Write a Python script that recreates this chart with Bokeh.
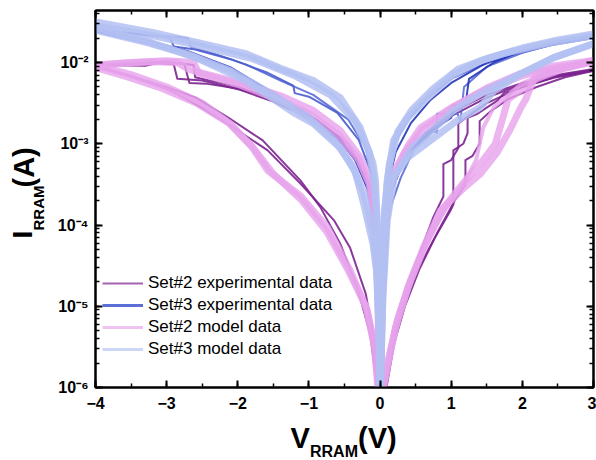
import math
from bokeh.plotting import figure
from bokeh.layouts import row, column
from bokeh.core.properties import value
from bokeh.models import (ColumnDataSource, Range1d, SingleIntervalTicker, LogTicker,
                          LinearAxis, LogAxis, Legend, LegendItem,
                          CustomJSTickFormatter)
from bokeh.embed import file_html
from bokeh.resources import INLINE

FONT = "Liberation Sans"

# ---------------- data (V in volts, I in amperes) ----------------
# Set#2 experimental data: branches of several switching cycles
set2_exp_v = [
    [0.08, 0.17, 0.29, 0.47, 0.75, 0.99, 1.03, 1.03, 1.17, 1.23, 1.23, 1.37, 1.51, 1.65, 1.74, 1.97, 2.44, 3.0],
    [3.0, 2.5, 2.0, 1.5, 1.0, 0.6, 0.35, 0.15, 0.07, 0.025, 0.006],
    [-0.006, -0.025, -0.06, -0.15, -0.3, -0.6, -1.0, -1.5, -2.0, -2.45, -2.68, -2.75, -3.1, -3.3, -4.0],
    [-4.0, -3.54, -3.06, -2.59, -2.13, -1.65, -1.12, -0.84, -0.56, -0.32, -0.14, -0.04],
    [0.07, 0.15, 0.27, 0.45, 0.6, 0.75, 0.89, 0.89, 1.0, 1.1, 1.1, 1.3, 1.5, 2.0, 2.5, 3.0],
    [3.0, 2.5, 2.0, 1.5, 1.0, 0.6, 0.35, 0.15, 0.07, 0.025, 0.006],
    [-0.006, -0.025, -0.06, -0.15, -0.3, -0.6, -1.0, -1.5, -2.0, -2.5, -2.85, -2.9, -3.2, -4.0],
    [-4.0, -3.5, -3.0, -2.52, -2.06, -1.58, -1.12, -0.65, -0.42, -0.2, -0.08, -0.03],
    [0.09, 0.2, 0.35, 0.55, 0.8, 1.05, 1.2, 1.2, 1.3, 1.4, 1.4, 1.55, 1.8, 2.2, 2.6, 3.0],
    [-0.008, -0.03, -0.08, -0.2, -0.45, -0.9, -1.4, -2.0, -2.4, -2.6, -2.62, -3.0, -3.4, -4.0],
]
set2_exp_i = [
    [1e-6, 3.1e-6, 8.1e-6, 2.24e-5, 6.5e-5, 1.51e-4, 1.78e-4, 8.3e-4, 1.0e-3, 1.35e-3, 2.09e-3, 2.34e-3, 2.82e-3, 3.4e-3, 4.2e-3, 4.9e-3, 6.5e-3, 7.9e-3],
    [8.3e-3, 7.1e-3, 5.6e-3, 4.0e-3, 2.4e-3, 1.26e-3, 7.1e-4, 2.82e-4, 7.1e-5, 1.12e-5, 1e-6],
    [1e-6, 1.12e-5, 7.1e-5, 3.16e-4, 6.0e-4, 1.26e-3, 2.24e-3, 3.5e-3, 4.8e-3, 5.5e-3, 5.6e-3, 9.5e-3, 1.0e-2, 9.1e-3, 9.3e-3],
    [9.1e-3, 6.9e-3, 5.2e-3, 3.7e-3, 2.09e-3, 1.1e-3, 3.55e-4, 1.66e-4, 5.9e-5, 1.7e-5, 4.6e-6, 1e-6],
    [1e-6, 3.16e-6, 8.9e-6, 2.5e-5, 5.6e-5, 1.26e-4, 2.24e-4, 5.6e-4, 6.3e-4, 8.9e-4, 1.78e-3, 2.4e-3, 3.16e-3, 5.0e-3, 6.8e-3, 8.1e-3],
    [8.1e-3, 6.9e-3, 5.4e-3, 3.7e-3, 2.19e-3, 1.17e-3, 6.6e-4, 2.63e-4, 6.3e-5, 1e-5, 1e-6],
    [1e-6, 1e-5, 6.3e-5, 2.82e-4, 5.6e-4, 1.2e-3, 2.09e-3, 3.3e-3, 4.7e-3, 6.0e-3, 6.3e-3, 9.5e-3, 1.0e-2, 8.9e-3],
    [8.9e-3, 6.8e-3, 4.8e-3, 2.82e-3, 1.58e-3, 8.3e-4, 3.24e-4, 1.15e-4, 5.2e-5, 1.41e-5, 3.55e-6, 1e-6],
    [1e-6, 3.55e-6, 1e-5, 2.82e-5, 7.9e-5, 2.0e-4, 3.16e-4, 6.3e-4, 7.1e-4, 1.0e-3, 1.9e-3, 2.5e-3, 3.55e-3, 5.0e-3, 6.6e-3, 7.9e-3],
    [1e-6, 1.26e-5, 1e-4, 4.2e-4, 1.0e-3, 2.0e-3, 3.3e-3, 5.0e-3, 6.0e-3, 6.6e-3, 9.3e-3, 1.02e-2, 9.8e-3, 9.3e-3],
]

# Set#3 experimental data
set3_exp_v = [
    [0.005, 0.04, 0.12, 0.29, 0.47, 0.75, 0.8, 0.8, 1.09, 1.13, 1.18, 1.5, 2.0, 2.5, 3.0],
    [3.0, 2.44, 1.9, 1.4, 1.0, 0.65, 0.4, 0.2, 0.1, 0.045, 0.015, 0.003],
    [-0.004, -0.015, -0.045, -0.1, -0.2, -0.45, -0.94, -1.4, -1.89, -2.3, -2.66, -2.7, -3.2, -4.0],
    [-4.0, -3.2, -2.59, -1.89, -1.4, -0.94, -0.46, -0.21, -0.08, -0.02, -0.005],
    [0.005, 0.05, 0.15, 0.39, 0.71, 1.0, 1.03, 1.2, 1.25, 1.6, 2.0, 2.5, 3.0],
    [3.0, 2.5, 2.0, 1.5, 1.0, 0.7, 0.43, 0.22, 0.1, 0.04, 0.012, 0.003],
    [-0.004, -0.02, -0.06, -0.13, -0.3, -0.6, -1.0, -1.2, -1.22, -1.6, -2.1, -2.6, -2.9, -2.95, -3.5, -4.0],
    [-4.0, -3.3, -2.7, -2.1, -1.5, -1.0, -0.6, -0.35, -0.18, -0.07, -0.02, -0.005],
]
set3_exp_i = [
    [1e-6, 2.0e-5, 1.41e-4, 3.8e-4, 8.3e-4, 1.45e-3, 1.35e-3, 2.34e-3, 2.34e-3, 1.9e-3, 5.0e-3, 8.9e-3, 1.32e-2, 1.74e-2, 2.09e-2],
    [2.0e-2, 1.66e-2, 1.26e-2, 9.1e-3, 6.3e-3, 3.55e-3, 2.0e-3, 1.0e-3, 3.16e-4, 7.9e-5, 1.26e-5, 1e-6],
    [1e-6, 1.26e-5, 1e-4, 3.16e-4, 8.9e-4, 2.0e-3, 4.0e-3, 6.0e-3, 9.5e-3, 1.26e-2, 1.55e-2, 2.0e-2, 2.19e-2, 2.5e-2],
    [2.4e-2, 1.66e-2, 1.2e-2, 6.6e-3, 3.24e-3, 1.95e-3, 8.9e-4, 4.27e-4, 1e-4, 1e-5, 1e-6],
    [1e-6, 2.5e-5, 2.5e-4, 7.9e-4, 1.41e-3, 2.09e-3, 3.0e-3, 3.0e-3, 6.3e-3, 1.0e-2, 1.41e-2, 1.82e-2, 2.19e-2],
    [2.14e-2, 1.74e-2, 1.38e-2, 1.0e-2, 5.6e-3, 3.4e-3, 1.78e-3, 7.9e-4, 2.82e-4, 6.3e-5, 1e-5, 1e-6],
    [1e-6, 2.0e-5, 1.41e-4, 4.5e-4, 1.12e-3, 2.4e-3, 3.8e-3, 4.2e-3, 5.2e-3, 7.6e-3, 1.1e-2, 1.45e-2, 1.58e-2, 2.0e-2, 2.29e-2, 2.5e-2],
    [2.5e-2, 1.9e-2, 1.38e-2, 8.7e-3, 4.2e-3, 2.29e-3, 1.2e-3, 6.3e-4, 2.82e-4, 7.1e-5, 1e-5, 1e-6],
]
set3_exp_shade = ["#5a6bd6", "#5a6bd6", "#5a6bd6", "#5a6bd6",
                  "#2636b8", "#2636b8", "#4a5cd0", "#2636b8"]

# Set#2 model data
set2_mod_v = [
    [0.045, 0.12, 0.22, 0.39, 0.61, 0.85, 1.17, 1.41, 1.65, 1.83, 1.97, 2.05, 2.16, 2.44, 2.75, 3.0],
    [3.0, 2.44, 1.97, 1.51, 1.03, 0.57, 0.39, 0.15, 0.08, 0.03, 0.008],
    [-0.008, -0.03, -0.06, -0.14, -0.28, -0.56, -0.94, -1.4, -1.96, -2.45, -2.7, -2.85, -3.2, -3.6, -4.0],
    [-4.0, -3.54, -3.06, -2.59, -2.13, -1.79, -1.58, -1.12, -0.74, -0.42, -0.18, -0.07, -0.025],
    [0.05, 0.13, 0.25, 0.43, 0.66, 0.9, 1.2, 1.45, 1.62, 1.72, 1.8, 2.2, 2.6, 3.0],
    [3.0, 2.5, 2.0, 1.5, 1.0, 0.6, 0.35, 0.15, 0.07, 0.025, 0.007],
    [-0.007, -0.025, -0.06, -0.15, -0.3, -0.6, -1.0, -1.5, -2.0, -2.35, -2.55, -2.62, -3.0, -3.5, -4.0],
    [-4.0, -3.5, -3.0, -2.5, -2.1, -1.8, -1.5, -1.1, -0.75, -0.45, -0.2, -0.08, -0.03],
    [0.05, 0.2, 0.45, 0.75, 1.0, 1.2, 1.35, 1.45, 1.6, 2.0, 2.5, 3.0],
]
set2_mod_i = [
    [1.0e-6, 2.14e-6, 5.5e-6, 1.7e-5, 5.25e-5, 1.51e-4, 2.82e-4, 4.27e-4, 7.9e-4, 1.51e-3, 2.69e-3, 3.55e-3, 6.3e-3, 7.9e-3, 9.3e-3, 1.06e-2],
    [1.06e-2, 9.1e-3, 7.3e-3, 4.9e-3, 2.88e-3, 1.58e-3, 9.3e-4, 3.8e-4, 9.3e-5, 1.45e-5, 1e-6],
    [1e-6, 1.17e-5, 8.5e-5, 3.55e-4, 6.8e-4, 1.45e-3, 2.57e-3, 3.9e-3, 5.6e-3, 7.2e-3, 8.3e-3, 1.0e-2, 1.02e-2, 9.8e-3, 9.1e-3],
    [8.7e-3, 6.6e-3, 4.8e-3, 3.2e-3, 1.82e-3, 8.9e-4, 4.7e-4, 2.29e-4, 9.3e-5, 2.75e-5, 8.9e-6, 3.1e-6, 1e-6],
    [1e-6, 2.5e-6, 7.1e-6, 2.09e-5, 6.3e-5, 1.66e-4, 3.55e-4, 6.3e-4, 1.0e-3, 2.0e-3, 3.55e-3, 6.3e-3, 8.5e-3, 1.02e-2],
    [1.02e-2, 8.7e-3, 6.9e-3, 4.7e-3, 2.69e-3, 1.48e-3, 7.9e-4, 3.16e-4, 7.9e-5, 1.26e-5, 1e-6],
    [1e-6, 1.12e-5, 7.1e-5, 3.16e-4, 6.3e-4, 1.32e-3, 2.34e-3, 3.7e-3, 5.4e-3, 6.6e-3, 7.4e-3, 1.0e-2, 1.05e-2, 1.0e-2, 9.3e-3],
    [9.3e-3, 7.1e-3, 5.0e-3, 3.16e-3, 1.74e-3, 9.3e-4, 4.27e-4, 2.0e-4, 8.3e-5, 2.8e-5, 1.0e-5, 3.16e-6, 1e-6],
    [1e-6, 5.6e-6, 2.5e-5, 8.9e-5, 2.0e-4, 3.55e-4, 6.3e-4, 1.58e-3, 2.82e-3, 5.6e-3, 8.3e-3, 1.05e-2],
]
set2_mod_width = [7, 7, 7, 7, 7, 7, 7, 7, 4]

# Set#3 model data
set3_mod_v = [
    [0.005, 0.03, 0.08, 0.15, 0.39, 0.71, 1.09, 1.41, 1.6, 1.97, 2.44, 3.0],
    [3.0, 2.44, 1.735, 1.41, 1.03, 0.67, 0.39, 0.19, 0.1, 0.05, 0.02, 0.004],
    [-0.003, -0.01, -0.03, -0.065, -0.1, -0.28, -0.56, -0.94, -1.4, -1.89, -2.59, -3.2, -4.0],
    [-4.0, -3.2, -2.59, -1.89, -1.19, -0.94, -0.56, -0.35, -0.23, -0.1, -0.05, -0.015, -0.004],
    [0.006, 0.04, 0.1, 0.2, 0.45, 0.8, 1.03, 1.3, 1.51, 1.97, 2.44, 3.0],
    [3.0, 2.5, 2.0, 1.5, 1.1, 0.75, 0.45, 0.25, 0.13, 0.06, 0.025, 0.005],
    [-0.004, -0.015, -0.04, -0.08, -0.15, -0.35, -0.7, -1.2, -1.8, -2.5, -3.2, -4.0],
    [-4.0, -3.3, -2.7, -2.1, -1.5, -1.0, -0.65, -0.4, -0.22, -0.1, -0.04, -0.012, -0.003],
]
set3_mod_i = [
    [1e-6, 1e-5, 9.3e-5, 3.55e-4, 6.8e-4, 1.1e-3, 1.95e-3, 2.82e-3, 4.5e-3, 7.2e-3, 1.15e-2, 1.7e-2],
    [2.14e-2, 1.78e-2, 1.29e-2, 1.05e-2, 7.1e-3, 3.7e-3, 2.09e-3, 1.1e-3, 3.55e-4, 8.9e-5, 1.26e-5, 1e-6],
    [1e-6, 1e-5, 6.3e-5, 3.55e-4, 5.75e-4, 1.58e-3, 3.7e-3, 6.0e-3, 8.5e-3, 1.29e-2, 1.78e-2, 2.34e-2, 3.16e-2],
    [2.7e-2, 1.74e-2, 1.15e-2, 6.0e-3, 2.34e-3, 1.78e-3, 8.9e-4, 4.5e-4, 1.82e-4, 5.9e-5, 2.75e-5, 5.0e-6, 1e-6],
    [1e-6, 1.26e-5, 1.12e-4, 4.0e-4, 8.9e-4, 1.66e-3, 2.57e-3, 3.6e-3, 4.6e-3, 7.2e-3, 1.15e-2, 1.7e-2],
    [2.24e-2, 1.9e-2, 1.51e-2, 1.12e-2, 8.3e-3, 4.8e-3, 2.63e-3, 1.41e-3, 5.6e-4, 1.41e-4, 2.0e-5, 1e-6],
    [1e-6, 1.26e-5, 1e-4, 3.16e-4, 7.9e-4, 1.9e-3, 4.0e-3, 6.9e-3, 1.12e-2, 1.58e-2, 2.14e-2, 2.82e-2],
    [2.5e-2, 1.78e-2, 1.26e-2, 7.9e-3, 4.0e-3, 2.09e-3, 1.12e-3, 5.6e-4, 2.4e-4, 7.9e-5, 2.5e-5, 5e-6, 1e-6],
]

legend_labels = ["Set#2 experimental data", "Set#3 experimental data",
                 "Set#2 model data", "Set#3 model data"]
x_major_interval = 1
y_min, y_max = 1e-6, 4.37e-2
x_min, x_max = -4, 3

x_title_parts = ["V", "RRAM", "(V)"]
y_title_parts = ["I", "RRAM", "(A)"]

# ---------------- main figure ----------------
MAIN_W, MAIN_H = 550, 418
FRAME_L, FRAME_R = 95, 593          # frame edges in page pixels
p = figure(width=MAIN_W, height=MAIN_H, x_range=Range1d(x_min, x_max),
           y_range=Range1d(y_min, y_max), y_axis_type="log",
           output_backend="svg", toolbar_location=None,
           min_border_left=49, min_border_right=3, min_border_top=10,
           min_border_bottom=31)
p.background_fill_color = "white"
p.border_fill_color = "white"
p.outline_line_color = "black"
p.outline_line_width = 2
p.xgrid.visible = False
p.ygrid.visible = False


def style_axis(ax, labels=True):
    ax.axis_line_width = 2
    ax.axis_line_color = "black"
    ax.major_tick_in = 7
    ax.major_tick_out = 0
    ax.minor_tick_in = 4
    ax.minor_tick_out = 0
    ax.major_tick_line_width = 2
    ax.minor_tick_line_width = 1.5
    ax.major_tick_line_color = "black"
    ax.minor_tick_line_color = "black"
    ax.major_label_text_font = FONT
    ax.major_label_text_font_style = "bold"
    ax.major_label_text_font_size = "16px"
    ax.major_label_text_color = "black"
    ax.axis_label = None
    if not labels:
        ax.formatter = CustomJSTickFormatter(code="return '';")
        ax.major_label_standoff = 0


sup_fmt = CustomJSTickFormatter(code="""
const sup = {'-':'\u207b','0':'\u2070','1':'\u00b9','2':'\u00b2','3':'\u00b3',
             '4':'\u2074','5':'\u2075','6':'\u2076','7':'\u2077','8':'\u2078','9':'\u2079'};
const e = Math.round(Math.log10(tick));
return '10' + String(e).split('').map(c => sup[c]).join('');
""")

p.xaxis.ticker = SingleIntervalTicker(interval=x_major_interval, num_minor_ticks=2)
style_axis(p.xaxis[0])
p.xaxis.major_label_standoff = 9

p.yaxis.ticker = LogTicker(num_minor_ticks=10)
p.yaxis.formatter = sup_fmt
style_axis(p.yaxis[0])
p.yaxis.major_label_standoff = 7

top_ax = LinearAxis(ticker=SingleIntervalTicker(interval=x_major_interval, num_minor_ticks=2))
style_axis(top_ax, labels=False)
p.add_layout(top_ax, "above")
right_ax = LogAxis(ticker=LogTicker(num_minor_ticks=10))
style_axis(right_ax, labels=False)
p.add_layout(right_ax, "right")

# ---------------- curves ----------------
src2e = ColumnDataSource(dict(xs=set2_exp_v, ys=set2_exp_i))
p.multi_line("xs", "ys", source=src2e, line_color="#7c2390", line_width=2, line_alpha=0.9,
             line_join="round")
src3e = ColumnDataSource(dict(xs=set3_exp_v, ys=set3_exp_i, c=set3_exp_shade))
p.multi_line("xs", "ys", source=src3e, line_color="c", line_width=2, line_alpha=0.9,
             line_join="round")
src2m = ColumnDataSource(dict(xs=set2_mod_v, ys=set2_mod_i, w=set2_mod_width))
p.multi_line("xs", "ys", source=src2m, line_color="#e7a2ec", line_width="w", line_alpha=0.8,
             line_join="round", line_cap="round")
src3m = ColumnDataSource(dict(xs=set3_mod_v, ys=set3_mod_i))
p.multi_line("xs", "ys", source=src3m, line_color="#b3bff2", line_width=7, line_alpha=0.85,
             line_join="round", line_cap="round")

# legend swatches (renderers carrying the legend line style only)
leg_src = ColumnDataSource(dict(x=[x_min], y=[y_min]))
leg_r = [
    p.line("x", "y", source=leg_src, line_color="#a463b0", line_width=2),
    p.line("x", "y", source=leg_src, line_color="#5b6fd6", line_width=3),
    p.line("x", "y", source=leg_src, line_color="#f0c2f2", line_width=3),
    p.line("x", "y", source=leg_src, line_color="#cfd7f6", line_width=3),
]
legend = Legend(items=[LegendItem(label=l, renderers=[r]) for l, r in zip(legend_labels, leg_r)],
                location=(7, 27), padding=0, margin=0, spacing=0,
                glyph_width=41, glyph_height=22, label_height=22, label_standoff=5,
                label_text_font=FONT, label_text_font_size="17px",
                label_text_color="black",
                background_fill_alpha=0, border_line_alpha=0)
p.add_layout(legend)


# ---------------- axis-title strips (pixel-unit figures) ----------------
def strip(w, h, xr):
    f = figure(width=w, height=h, x_range=xr, y_range=Range1d(0, h),
               output_backend="svg", toolbar_location=None,
               x_axis_location=None, y_axis_location=None,
               min_border=0, min_border_left=0, min_border_right=0,
               min_border_top=0, min_border_bottom=0)
    f.outline_line_color = None
    f.background_fill_color = "white"
    f.border_fill_color = "white"
    f.grid.visible = False
    return f


YW, XH = 46, 460 - MAIN_H
fy = strip(YW, 460, Range1d(0, YW))
# the bottom strip's frame is aligned with the main frame, so its x range is page pixels
fx = strip(MAIN_W, XH, Range1d(FRAME_L, FRAME_R))

# y title (rotated, reads bottom-to-top); anchors at glyph centres
for txt, (x, y, size) in zip(y_title_parts, [(22, 222, "28px"), (37.5, 230, "15px"), (23, 273, "29px")]):
    fy.text(x=[x], y=[y], text=[txt], angle=math.pi / 2, text_font=value(FONT),
            text_font_style="bold", text_font_size=size, text_color="black",
            text_align="left", text_baseline="middle")

# x title: "V" + subscript "RRAM" + "(V)"
for txt, (x, y, size) in zip(x_title_parts, [(290, 22.5, "29px"), (309.5, 9.5, "16px"), (357.5, 22.5, "29px")]):
    fx.text(x=[x], y=[y], text=[txt], text_font=value(FONT),
            text_font_style="bold", text_font_size=size, text_color="black",
            text_align="left", text_baseline="middle")

layout = row(fy, column(p, fx, spacing=0), spacing=0)
open("out.html", "w").write(file_html(layout, INLINE))
